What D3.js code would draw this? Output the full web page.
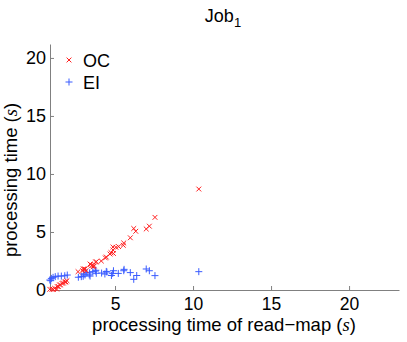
<!DOCTYPE html>
<html>
<head>
<meta charset="utf-8">
<script src="https://cdn.jsdelivr.net/npm/d3@7"></script>
<style>
  body { margin: 0; background: #fff; }
  text { font-family: "Liberation Sans", Arial, sans-serif; fill: #000; }
  .axis path, .axis line { stroke: #808080; }
</style>
</head>
<body>
<div id="vis-container"></div>
<script>
// OC series (red x)
var ocX = [0.82, 0.96, 1.05, 1.13, 1.26, 1.3, 1.37, 1.45, 1.5, 1.6, 1.69, 1.78, 1.85, 1.92,
           2.63, 2.93, 2.97, 3.0, 3.08, 3.14, 3.4, 3.44, 3.5, 3.58, 3.6, 3.67, 3.76, 3.8,
           4.12, 4.38, 4.44, 4.68, 4.74, 4.87, 4.87, 4.9, 5.06, 5.23, 5.53, 5.56, 5.98,
           6.2, 6.33, 7.0, 7.2, 7.56, 10.37];
var ocY = [0.06, 0.06, 0.05, 0.14, 0.08, 0.29, 0.3, 0.43, 0.45, 0.57, 0.6, 0.69, 0.7, 0.8,
           1.58, 1.66, 1.81, 1.8, 1.81, 1.66, 2.24, 2.2, 2.1, 2.1, 2.0, 2.07, 2.41, 2.44,
           2.5, 2.76, 2.84, 3.1, 3.22, 3.45, 3.7, 3.15, 3.68, 3.74, 3.85, 4.05, 4.5,
           5.3, 5.06, 5.26, 5.5, 6.26, 8.7];

// EI series (blue +)
var eiX = [0.82, 0.88, 0.92, 1.03, 1.17, 1.35, 1.56, 1.78, 1.94,
           2.65, 2.84, 2.96, 3.0, 3.08, 3.2, 3.35, 3.37, 3.4, 3.58, 3.74, 3.77, 3.8,
           4.14, 4.35, 4.44, 4.48, 4.77, 4.85, 4.9, 5.21, 5.56, 5.58, 5.98, 6.2, 6.39,
           7.0, 7.2, 7.56, 10.37];
var eiY = [0.86, 0.8, 1.0, 1.09, 1.15, 1.2, 1.2, 1.23, 1.29,
           1.1, 1.15, 1.18, 1.38, 1.3, 1.5, 1.3, 1.48, 1.2, 1.58, 1.63, 1.7, 1.44,
           1.46, 1.38, 1.6, 1.55, 1.25, 1.43, 1.66, 1.43, 1.66, 1.78, 1.5, 0.92, 1.25,
           1.81, 1.66, 1.24, 1.58];

var xTicks = [5, 10, 15, 20];
var yTicks = [0, 5, 10, 15, 20];
var seriesNames = ["OC", "EI"];

var W = 407, H = 342;
var mLeft = 50, mRight = 399, mTop = 44, mBottom = 290;

var svg = d3.select("#vis-container").append("svg")
    .attr("width", W).attr("height", H);

var xScale = d3.scaleLinear().domain([0.833, 23.2]).range([mLeft, mRight]);
var yScale = d3.scaleLinear().domain([0, 21.2]).range([mBottom, mTop]);

// axes (ticks point inward, like matlab)
var xAxis = d3.axisBottom(xScale).tickValues(xTicks).tickSizeInner(-4).tickSizeOuter(0).tickPadding(8);
svg.append("g").attr("class", "x axis")
    .attr("transform", "translate(0," + mBottom + ")")
    .call(xAxis)
    .selectAll("text").style("font-size", "17.5px");

var yAxis = d3.axisLeft(yScale).tickValues(yTicks).tickSizeInner(-4).tickSizeOuter(0).tickPadding(4);
svg.append("g").attr("class", "y axis")
    .attr("transform", "translate(" + mLeft + ",0)")
    .call(yAxis)
    .selectAll("text").style("font-size", "18px");

// points
var ocData = ocX.map(function(d, i) { return [d, ocY[i]]; });
var eiData = eiX.map(function(d, i) { return [d, eiY[i]]; });

svg.append("g").selectAll("path")
    .data(eiData).enter().append("path")
    .attr("transform", function(d) { return "translate(" + xScale(d[0]) + "," + yScale(d[1]) + ")"; })
    .attr("d", "M-3.5,0H3.5M0,-3.5V3.5")
    .attr("stroke", "#3a5cff").attr("stroke-width", 1).attr("fill", "none");

svg.append("g").selectAll("path")
    .data(ocData).enter().append("path")
    .attr("transform", function(d) { return "translate(" + xScale(d[0]) + "," + yScale(d[1]) + ")"; })
    .attr("d", "M-2.4,-2.4L2.4,2.4M-2.4,2.4L2.4,-2.4")
    .attr("stroke", "#ff2020").attr("stroke-width", 1).attr("fill", "none");

// legend
svg.append("path").attr("transform", "translate(69,60)")
    .attr("d", "M-2.4,-2.4L2.4,2.4M-2.4,2.4L2.4,-2.4")
    .attr("stroke", "#ff2020").attr("fill", "none");
svg.append("path").attr("transform", "translate(69,82)")
    .attr("d", "M-3.5,0H3.5M0,-3.5V3.5")
    .attr("stroke", "#3a5cff").attr("fill", "none");
svg.append("text").attr("x", 83).attr("y", 67).style("font-size", "18px").text(seriesNames[0]);
svg.append("text").attr("x", 83).attr("y", 89).style("font-size", "18px").text(seriesNames[1]);

// title
var title = svg.append("text").attr("x", 223).attr("y", 22)
    .attr("text-anchor", "middle").style("font-size", "18px");
title.append("tspan").text("Job");
title.append("tspan").attr("dy", 5).style("font-size", "13px").text("1");

// axis labels
var xl = svg.append("text").attr("x", 224).attr("y", 331)
    .attr("text-anchor", "middle").style("font-size", "18.5px");
xl.append("tspan").text("processing time of read\u2212map (");
xl.append("tspan").style("font-family", "'Liberation Serif', serif").style("font-style", "italic").text("s");
xl.append("tspan").text(")");

var yl = svg.append("text").attr("transform", "translate(17,180) rotate(-90)")
    .attr("text-anchor", "middle").style("font-size", "18.5px");
yl.append("tspan").text("processing time (");
yl.append("tspan").style("font-family", "'Liberation Serif', serif").style("font-style", "italic").text("s");
yl.append("tspan").text(")");
</script>
</body>
</html>
